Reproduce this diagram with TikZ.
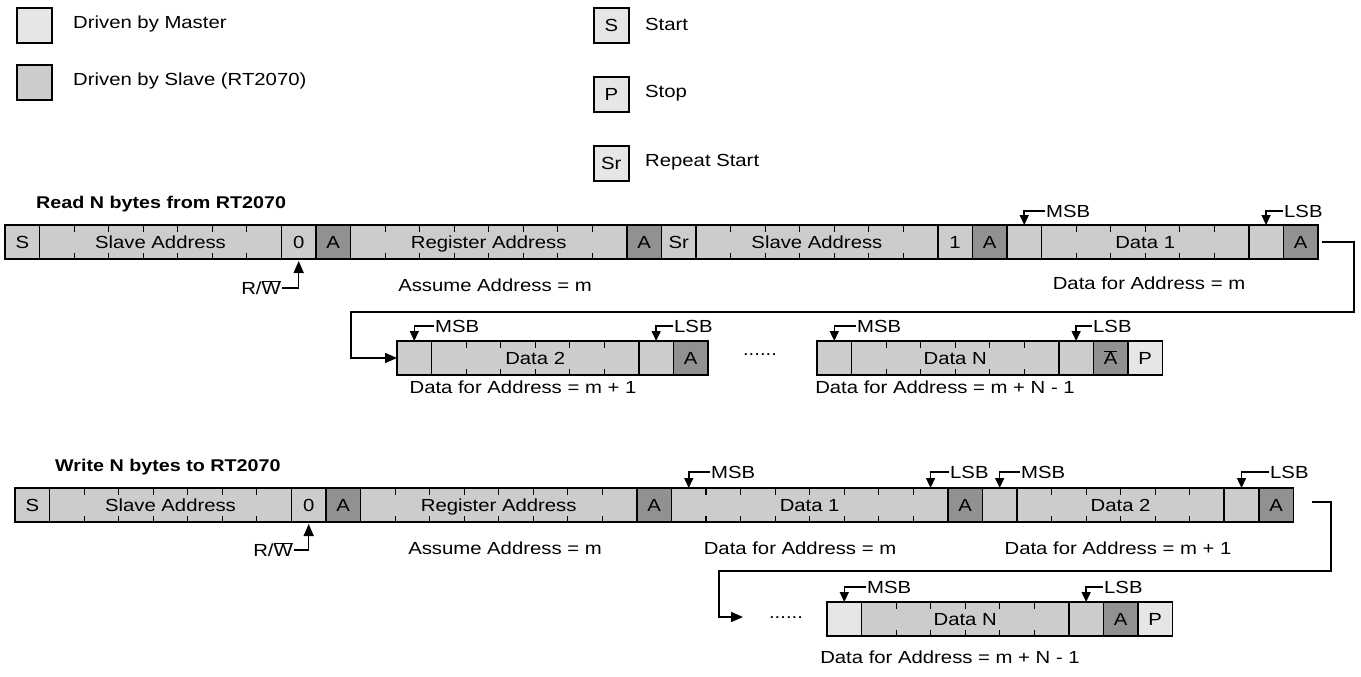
\documentclass[tikz,border=0pt]{standalone}
\usepackage{fontspec}
\setmainfont[FakeStretch=1.16]{Liberation Sans}
\usetikzlibrary{arrows.meta}
\definecolor{cLight}{RGB}{230,230,230}
\definecolor{cMed}{RGB}{204,204,204}
\definecolor{cDark}{RGB}{145,145,145}
\tikzset{
  txt/.style={font=\fontsize{17.5}{20}\selectfont, inner sep=1pt},
  hdr/.style={font=\fontsize{17}{20}\selectfont\bfseries, inner sep=0pt, anchor=west},
  fld/.style={draw=black, line width=1.6pt, fill=cMed, minimum height=34pt,
    minimum width=#1*34.55pt, inner sep=0pt, outer sep=0pt, anchor=north west,
    text height=12.5pt, text depth=0pt,
    font=\fontsize{17.5}{20}\selectfont},
  fld/.default=1,
  lightf/.style={fill=cLight},
  darkf/.style={fill=cDark},
  ticks/.style={path picture={
    \foreach \k in {1,...,#1}{
      \draw[line width=1.1pt]
        ([xshift=\k*34.55pt]path picture bounding box.north west) -- ++(0,-6.5pt)
        ([xshift=\k*34.55pt]path picture bounding box.south west) -- ++(0,6.5pt);
    }}},
  legbox/.style={draw=black, line width=1.6pt, minimum width=35pt, minimum height=35pt,
    inner sep=0pt, anchor=north west, text height=12.5pt, text depth=0pt,
    font=\fontsize{17.5}{20}\selectfont},
  bitlbl/.style={font=\fontsize{17.5}{20}\selectfont, inner sep=1pt, anchor=west},
  mk/.style={line width=1.5pt, -{Triangle[length=10pt,width=9pt]}},
  conn/.style={line width=1.5pt, -{Triangle[length=12pt,width=10pt]}},
}
\newcommand{\ovl}[1]{$\overline{\hbox{#1}}$}
\begin{document}
\begin{tikzpicture}[x=1pt,y=-1pt]
\useasboundingbox (0,0) rectangle (1361,677);

% ---------- legend ----------
\node[legbox, fill=cLight] (lgm) at (16,7) {};
\node[txt, anchor=west] (lgmt) at (72,24) {Driven by Master};
\node[legbox, fill=cMed] (lgs) at (16,64) {};
\node[txt, anchor=west] (lgst) at (72,81) {Driven by Slave (RT2070)};
\node[legbox, fill=cLight] (lgS) at (593,7) {S};
\node[txt, anchor=west] (lgSt) at (644,24) {Start};
\node[legbox, fill=cLight] (lgP) at (593,76) {P};
\node[txt, anchor=west] (lgPt) at (644,93) {Stop};
\node[legbox, fill=cLight] (lgSr) at (593,145) {Sr};
\node[txt, anchor=west] (lgSrt) at (644,162) {Repeat Start};

% ---------- read ----------
\node[hdr] (rhdr) at (36,204) {Read N bytes from RT2070};
\node[fld] (rS) at (5,225) {S};
\node[fld=7, ticks=6] (rSA) at (rS.north east) {Slave Address};
\node[fld] (r0) at (rSA.north east) {0};
\node[fld, darkf] (rA1) at (r0.north east) {A};
\node[fld=8, ticks=7] (rRA) at (rA1.north east) {Register Address};
\node[fld, darkf] (rA2) at (rRA.north east) {A};
\node[fld] (rSr) at (rA2.north east) {Sr};
\node[fld=7, ticks=6] (rSA2) at (rSr.north east) {Slave Address};
\node[fld] (r1) at (rSA2.north east) {1};
\node[fld, darkf] (rA3) at (r1.north east) {A};
\node[fld] (rD1m) at (rA3.north east) {};
\node[fld=6, ticks=5] (rD1) at (rD1m.north east) {Data 1};
\node[fld] (rD1l) at (rD1.north east) {};
\node[fld, darkf] (rA4) at (rD1l.north east) {A};

\node[bitlbl] (rmsb) at (1045,211) {MSB};
\draw[mk] (rmsb.west) -| (rD1m.north);
\node[bitlbl] (rlsb) at (1283,211) {LSB};
\draw[mk] (rlsb.west) -| (rD1l.north);

\node[txt, anchor=east] (rrw) at (282,288) {R/\ovl{W}};
\draw[line width=1.5pt, -{Triangle[length=12pt,width=10pt]}] (rrw.east) -| ([yshift=-2pt]r0.south);
\node[txt] (rasm) at (495,285) {Assume Address = m};
\node[txt] (rdfa) at (1149,283) {Data for Address = m};

% row 2
\node[fld] (dD2m) at (397,341) {};
\node[fld=6, ticks=5] (dD2) at (dD2m.north east) {Data 2};
\node[fld] (dD2l) at (dD2.north east) {};
\node[fld, darkf] (dA5) at (dD2l.north east) {A};
\node[txt] (rdots) at (760,355) {......};
\node[fld] (dNm) at (817,341) {};
\node[fld=6, ticks=5] (dN) at (dNm.north east) {Data N};
\node[fld] (dNl) at (dN.north east) {};
\node[fld, darkf] (dNa) at (dNl.north east) {\ovl{A}};
\node[fld, lightf] (dNp) at (dNa.north east) {P};

\node[bitlbl] (d2msb) at (434,326) {MSB};
\draw[mk] (d2msb.west) -| (dD2m.north);
\node[bitlbl] (d2lsb) at (673,326) {LSB};
\draw[mk] (d2lsb.west) -| (dD2l.north);
\node[bitlbl] (dnmsb) at (856,326) {MSB};
\draw[mk] (dnmsb.west) -| (dNm.north);
\node[bitlbl] (dnlsb) at (1092,326) {LSB};
\draw[mk] (dnlsb.west) -| (dNl.north);

\node[txt] (d2dfa) at (523,387) {Data for Address = m + 1};
\node[txt] (dndfa) at (945,387) {Data for Address = m + N - 1};

\coordinate (c1) at (1354,312);
\coordinate (c2) at (351,312);
\draw[conn] ([xshift=4pt]rA4.east) -| (c1) -- (c2) |- (dD2m.west);

% ---------- write ----------
\node[hdr] (whdr) at (55,467) {Write N bytes to RT2070};
\node[fld] (wS) at (15,488) {S};
\node[fld=7, ticks=6] (wSA) at (wS.north east) {Slave Address};
\node[fld] (w0) at (wSA.north east) {0};
\node[fld, darkf] (wA1) at (w0.north east) {A};
\node[fld=8, ticks=7] (wRA) at (wA1.north east) {Register Address};
\node[fld, darkf] (wA2) at (wRA.north east) {A};
\node[fld=8, ticks=7] (wD1) at (wA2.north east) {Data 1};
\node[fld, darkf] (wA3) at (wD1.north east) {A};
\node[fld] (wD2m) at (wA3.north east) {};
\node[fld=6, ticks=5] (wD2) at (wD2m.north east) {Data 2};
\node[fld] (wD2l) at (wD2.north east) {};
\node[fld, darkf] (wA4) at (wD2l.north east) {A};

\coordinate (wd1m) at ([xshift=17.3pt]wD1.north west);
\coordinate (wd1l) at ([xshift=-17.3pt]wD1.north east);
\node[bitlbl] (wmsb1) at (710,472) {MSB};
\draw[mk] (wmsb1.west) -| (wd1m);
\node[bitlbl] (wlsb1) at (949,472) {LSB};
\draw[mk] (wlsb1.west) -| (wd1l);
\node[bitlbl] (wmsb2) at (1020,472) {MSB};
\draw[mk] (wmsb2.west) -| (wD2m.north);
\node[bitlbl] (wlsb2) at (1269,472) {LSB};
\draw[mk] (wlsb2.west) -| (wD2l.north);

\node[txt, anchor=east] (wrw) at (294,550) {R/\ovl{W}};
\draw[line width=1.5pt, -{Triangle[length=12pt,width=10pt]}] (wrw.east) -| ([yshift=-2pt]w0.south);
\node[txt] (wasm) at (505,548) {Assume Address = m};
\node[txt] (wdfa1) at (800,548) {Data for Address = m};
\node[txt] (wdfa2) at (1118,548) {Data for Address = m + 1};

% last row
\node[txt] (wdots) at (786,618) {......};
\node[fld, lightf] (lNm) at (827,602) {};
\node[fld=6, ticks=5] (lN) at (lNm.north east) {Data N};
\node[fld] (lNl) at (lN.north east) {};
\node[fld, darkf] (lNa) at (lNl.north east) {A};
\node[fld, lightf] (lNp) at (lNa.north east) {P};

\node[bitlbl] (lmsb) at (866,587) {MSB};
\draw[mk] (lmsb.west) -| (lNm.north);
\node[bitlbl] (llsb) at (1103,587) {LSB};
\draw[mk] (llsb.west) -| (lNl.north);
\node[txt] (ldfa) at (950,657) {Data for Address = m + N - 1};

\coordinate (c3) at (1331,571);
\coordinate (c4) at (719,571);
\coordinate (c5) at (743,617);
\draw[conn] ([xshift=19pt,yshift=3pt]wA4.east) -| (c3) -- (c4) |- (c5);
\end{tikzpicture}
\end{document}
